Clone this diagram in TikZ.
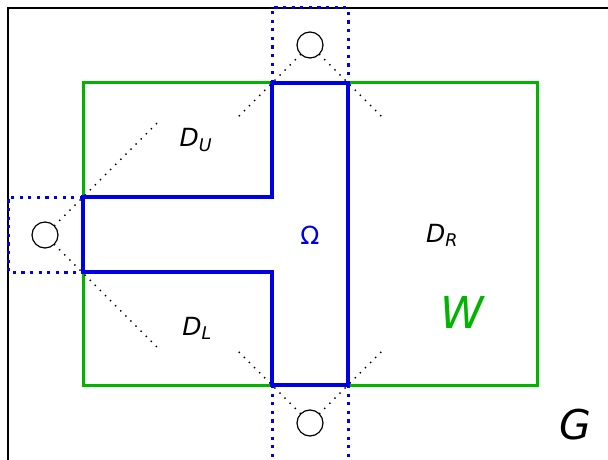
\documentclass[tikz,border=0pt]{standalone}
\usepackage{fontspec}
\setmainfont{DejaVu Sans}
\usetikzlibrary{positioning}
\definecolor{domGreen}{HTML}{00B400}
\definecolor{domBlue}{HTML}{0000E6}
\newcommand{\dom}[1]{\textit{D}\textsubscript{\textit{#1}}}
\tikzset{
  every node/.style={font=\fontsize{25}{30}\selectfont},
  region/.style={draw=domGreen, line width=3pt},
  omega/.style={draw=domBlue, line width=4.5pt, line join=miter},
  patch/.style={draw=domBlue, line width=3pt, dash pattern=on 3.2pt off 5.4pt},
  hole/.style={draw, circle, line width=1.2pt, minimum size=26pt, inner sep=0pt},
  ray/.style={line width=2pt, line cap=round, dash pattern=on 0pt off 7.2pt},
  outer/.style={draw, line width=2pt},
}
\begin{document}
\begin{tikzpicture}[x=1pt, y=-1pt]
\useasboundingbox (0,0) rectangle (608,460);

% ------------------------------------------------------------ the outer set
\draw[outer] (8,470) -- (8,8) -- (620,8);
\node[font=\fontsize{41}{45}\selectfont\itshape] (G) at (575,425) {G};

% ----------------------------------------------------------- the window W
\draw[region] (83,83) rectangle (537,385);
\node[text=domGreen, font=\fontsize{44}{50}\selectfont\itshape] (W) at (462,312) {W};

% ------------------------------------------------------ the patches and holes
\draw[patch] (272,83) -- (272,8) -- (348,8) -- (348,83);
\draw[patch] (272,385) -- (272,470);
\draw[patch] (348,385) -- (348,470);
\draw[patch] (83,197) -- (8,197) -- (8,272) -- (83,272);

\node[hole] (hU) at (310,45) {};
\node[hole] (hL) at (45,235) {};
\node[hole] (hB) at (310,423) {};

\coordinate (rU1) at (235,120);
\coordinate (rU2) at (385,120);
\coordinate (rL1) at (157,123);
\coordinate (rL2) at (157,347);
\coordinate (rB1) at (235,348);
\coordinate (rB2) at (385,348);
\foreach \h/\r in {hU/rU1, hU/rU2, hL/rL1, hL/rL2, hB/rB1, hB/rB2}
  \draw[ray] (\h) -- (\r);

% ------------------------------------------------------------- the set Omega
\draw[omega] (272,83) -- (348,83) -- (348,385) -- (272,385) -- (272,272)
  -- (83,272) -- (83,197) -- (272,197) -- cycle;
\node[text=domBlue] (om) at (310,235) {Ω};

% ---------------------------------------------------------- the subdomains
\node (DU) at (196,140) {\dom{U}};
\node (DL) at (197,328) {\dom{L}};
\node (DR) at (442,235) {\dom{R}};

\end{tikzpicture}
\end{document}
